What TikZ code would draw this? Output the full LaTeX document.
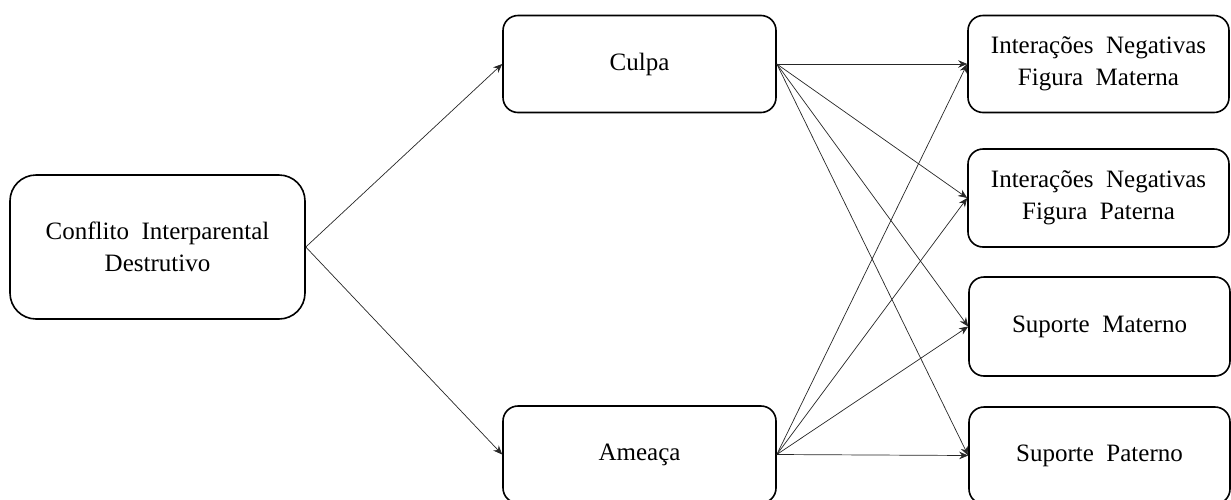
\documentclass[tikz,border=0pt]{standalone}
\usepackage{fontspec}
\setmainfont{Liberation Serif}
\usetikzlibrary{arrows.meta}
\newcommand\mywsp{\spaceskip=0.5em\relax}
\begin{document}
\begin{tikzpicture}[x=1pt,y=-1pt,
  box/.style={draw, line width=1.6pt, rounded corners=15pt, align=center,
    inner sep=0pt, font=\fontsize{25}{32}\selectfont\mywsp},
  conn/.style={line width=0.7pt, draw=black!85, -{Stealth[length=9pt,width=7.5pt]}}]
\useasboundingbox (0,0) rectangle (1231,499);
\clip (0,0) rectangle (1231,499);
\node[box, rounded corners=26pt, minimum width=295pt, minimum height=144pt] (conf) at (157.5,247) {Conflito Interparental\\Destrutivo};
\node[box, minimum width=273pt, minimum height=97pt] (culpa) at (639.5,64) {Culpa};
\node[box, minimum width=273pt, minimum height=97pt] (ameaca) at (639.5,454.5) {Ameaça};
\node[box, minimum width=261pt, minimum height=97pt] (r1) at (1098.5,64) {Interações Negativas\\Figura Materna};
\node[box, minimum width=261pt, minimum height=98pt] (r2) at (1098.5,198) {Interações Negativas\\Figura Paterna};
\node[box, minimum width=261pt, minimum height=99pt] (r3) at (1099.5,326.5) {Suporte Materno};
\node[box, minimum width=261pt, minimum height=97pt] (r4) at (1099.5,455.5) {Suporte Paterno};
\draw[conn] (conf.east) -- (culpa.west);
\draw[conn] (conf.east) -- (ameaca.west);
\foreach \t in {r1,r2,r3,r4}{
  \draw[conn] (culpa.east) -- (\t.west);
  \draw[conn] (ameaca.east) -- (\t.west);
}
\end{tikzpicture}
\end{document}
